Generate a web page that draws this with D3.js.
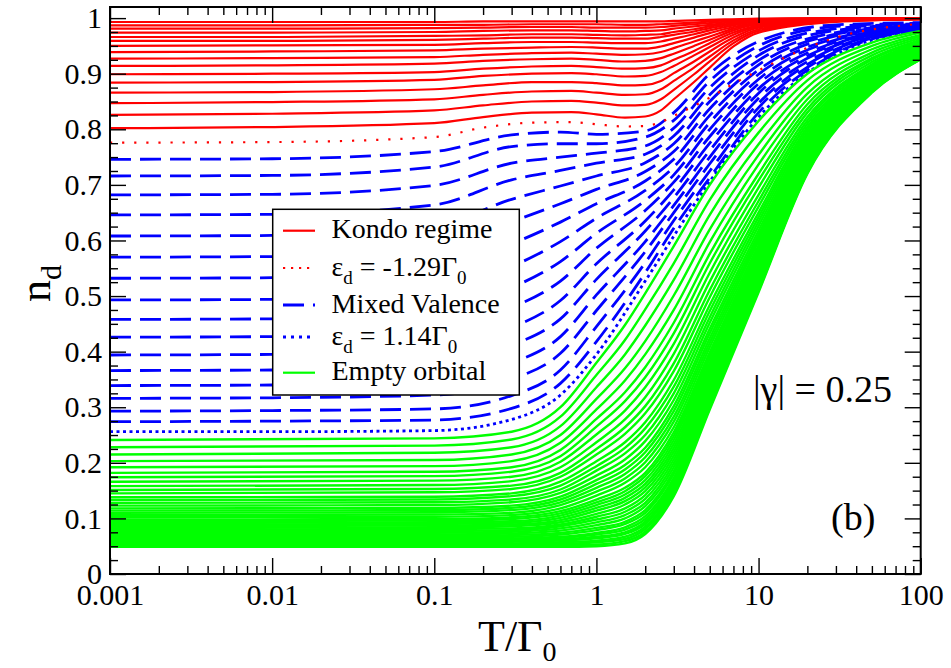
<!DOCTYPE html>
<html>
<head>
<meta charset="utf-8">
<script src="https://cdn.jsdelivr.net/npm/d3@7"></script>
<style>
  body { margin: 0; background: #fff; }
  svg { display: block; font-family: "Liberation Serif", "Times New Roman", serif; }
</style>
</head>
<body>
<div id="chart"></div>
<script>
// n_d(T) for |gamma| = 0.25; T in units of Gamma_0

// Kondo regime (solid red)
const kondoT = [0.001, 0.01, 0.1, 0.2, 0.4, 0.7, 1, 1.5, 2, 2.5, 3, 4, 5, 7, 10, 30, 100];
const kondoCurves = [
  [0.802, 0.804, 0.811, 0.822, 0.830, 0.831, 0.827, 0.821, 0.823, 0.834, 0.854, 0.885, 0.911, 0.949, 0.974, 0.993, 0.998],
  [0.826, 0.828, 0.834, 0.843, 0.850, 0.851, 0.848, 0.843, 0.844, 0.854, 0.871, 0.899, 0.922, 0.955, 0.977, 0.994, 0.998],
  [0.847, 0.849, 0.854, 0.862, 0.868, 0.869, 0.866, 0.862, 0.863, 0.872, 0.887, 0.911, 0.931, 0.960, 0.980, 0.995, 0.998],
  [0.866, 0.867, 0.872, 0.879, 0.885, 0.885, 0.883, 0.879, 0.880, 0.887, 0.901, 0.922, 0.940, 0.965, 0.983, 0.995, 0.998],
  [0.884, 0.885, 0.889, 0.896, 0.900, 0.901, 0.899, 0.895, 0.896, 0.903, 0.914, 0.933, 0.948, 0.970, 0.985, 0.996, 0.999],
  [0.899, 0.900, 0.903, 0.909, 0.913, 0.914, 0.912, 0.909, 0.910, 0.915, 0.925, 0.941, 0.955, 0.974, 0.987, 0.996, 0.999],
  [0.914, 0.915, 0.918, 0.923, 0.926, 0.927, 0.925, 0.922, 0.923, 0.928, 0.936, 0.950, 0.961, 0.978, 0.989, 0.997, 0.999],
  [0.927, 0.928, 0.930, 0.934, 0.937, 0.938, 0.936, 0.934, 0.935, 0.939, 0.946, 0.958, 0.967, 0.981, 0.991, 0.997, 0.999],
  [0.939, 0.940, 0.942, 0.945, 0.947, 0.948, 0.947, 0.945, 0.945, 0.949, 0.955, 0.965, 0.973, 0.984, 0.992, 0.998, 0.999],
  [0.950, 0.951, 0.952, 0.955, 0.957, 0.957, 0.956, 0.955, 0.955, 0.958, 0.963, 0.971, 0.978, 0.987, 0.994, 0.998, 0.999],
  [0.959, 0.959, 0.961, 0.963, 0.965, 0.965, 0.964, 0.963, 0.963, 0.966, 0.970, 0.976, 0.982, 0.989, 0.995, 0.999, 1.000],
  [0.966, 0.966, 0.968, 0.969, 0.971, 0.971, 0.970, 0.969, 0.970, 0.971, 0.975, 0.980, 0.985, 0.991, 0.996, 0.999, 1.000],
  [0.974, 0.974, 0.975, 0.977, 0.978, 0.978, 0.977, 0.976, 0.977, 0.978, 0.981, 0.985, 0.988, 0.993, 0.997, 0.999, 1.000],
  [0.981, 0.981, 0.982, 0.983, 0.984, 0.984, 0.983, 0.983, 0.983, 0.984, 0.986, 0.989, 0.991, 0.995, 0.998, 0.999, 1.000],
  [0.987, 0.987, 0.988, 0.988, 0.989, 0.989, 0.989, 0.988, 0.988, 0.989, 0.990, 0.992, 0.994, 0.997, 0.998, 1.000, 1.000],
  [0.993, 0.993, 0.993, 0.994, 0.994, 0.994, 0.994, 0.994, 0.994, 0.994, 0.995, 0.996, 0.997, 0.998, 0.999, 1.000, 1.000]
];
// eps_d = -1.29 Gamma_0 (dotted red)
const kondoEdge = [0.776, 0.777, 0.786, 0.803, 0.812, 0.813, 0.809, 0.805, 0.806, 0.813, 0.824, 0.842, 0.857, 0.882, 0.906, 0.965, 0.990];

// Mixed valence (dashed blue)
const mixedT = [0.001, 0.01, 0.1, 0.3, 0.6, 1, 2, 3, 5, 10, 30, 100];
const mixedCurves = [
  [0.746, 0.747, 0.760, 0.790, 0.795, 0.791, 0.797, 0.830, 0.900, 0.958, 0.988, 0.992],
  [0.716, 0.717, 0.732, 0.769, 0.774, 0.774, 0.786, 0.816, 0.887, 0.950, 0.985, 0.991],
  [0.682, 0.683, 0.699, 0.739, 0.750, 0.757, 0.770, 0.802, 0.875, 0.941, 0.981, 0.990],
  [0.646, 0.647, 0.664, 0.709, 0.726, 0.739, 0.755, 0.788, 0.862, 0.933, 0.978, 0.989],
  [0.608, 0.609, 0.626, 0.674, 0.698, 0.716, 0.740, 0.774, 0.850, 0.924, 0.974, 0.988],
  [0.570, 0.571, 0.587, 0.634, 0.666, 0.692, 0.724, 0.760, 0.837, 0.916, 0.971, 0.987],
  [0.532, 0.533, 0.548, 0.594, 0.633, 0.666, 0.707, 0.746, 0.825, 0.907, 0.968, 0.986],
  [0.493, 0.494, 0.508, 0.553, 0.598, 0.640, 0.690, 0.732, 0.812, 0.899, 0.964, 0.985],
  [0.458, 0.459, 0.471, 0.515, 0.562, 0.613, 0.672, 0.718, 0.800, 0.890, 0.961, 0.984],
  [0.426, 0.427, 0.438, 0.479, 0.527, 0.586, 0.654, 0.705, 0.787, 0.882, 0.957, 0.983],
  [0.394, 0.395, 0.404, 0.443, 0.492, 0.558, 0.635, 0.691, 0.775, 0.873, 0.954, 0.983],
  [0.366, 0.367, 0.375, 0.411, 0.459, 0.530, 0.617, 0.677, 0.762, 0.865, 0.951, 0.982],
  [0.339, 0.340, 0.346, 0.379, 0.427, 0.502, 0.598, 0.663, 0.750, 0.856, 0.947, 0.981],
  [0.316, 0.317, 0.322, 0.350, 0.397, 0.474, 0.580, 0.650, 0.738, 0.847, 0.944, 0.980],
  [0.293, 0.294, 0.297, 0.321, 0.367, 0.445, 0.560, 0.636, 0.725, 0.839, 0.940, 0.980],
  [0.274, 0.275, 0.277, 0.298, 0.343, 0.418, 0.542, 0.622, 0.713, 0.830, 0.937, 0.979]
];
// eps_d = 1.14 Gamma_0 (dotted blue)
const mixedEdge = [0.256, 0.256, 0.258, 0.278, 0.322, 0.395, 0.527, 0.608, 0.706, 0.822, 0.934, 0.978];

// Empty orbital (thin green)
const emptyT = [0.001, 0.1, 0.3, 0.6, 1, 1.5, 2, 3, 5, 10, 20, 50, 100];
const emptyCurves = [
  [0.241, 0.244, 0.256, 0.300, 0.380, 0.448, 0.505, 0.590, 0.700, 0.815, 0.900, 0.956, 0.977],
  [0.228, 0.231, 0.242, 0.283, 0.358, 0.421, 0.476, 0.559, 0.673, 0.794, 0.888, 0.950, 0.974],
  [0.215, 0.218, 0.228, 0.266, 0.336, 0.395, 0.447, 0.529, 0.646, 0.773, 0.876, 0.944, 0.970],
  [0.203, 0.205, 0.215, 0.250, 0.315, 0.370, 0.419, 0.501, 0.620, 0.754, 0.864, 0.938, 0.967],
  [0.192, 0.194, 0.203, 0.236, 0.296, 0.348, 0.395, 0.475, 0.597, 0.737, 0.854, 0.933, 0.964],
  [0.182, 0.184, 0.192, 0.223, 0.279, 0.327, 0.372, 0.452, 0.576, 0.720, 0.845, 0.928, 0.961],
  [0.174, 0.176, 0.184, 0.212, 0.265, 0.311, 0.354, 0.433, 0.559, 0.708, 0.837, 0.925, 0.959],
  [0.166, 0.168, 0.175, 0.202, 0.251, 0.294, 0.336, 0.414, 0.542, 0.695, 0.830, 0.921, 0.957],
  [0.158, 0.160, 0.167, 0.192, 0.237, 0.278, 0.318, 0.396, 0.526, 0.682, 0.822, 0.917, 0.955],
  [0.151, 0.153, 0.159, 0.182, 0.225, 0.264, 0.302, 0.379, 0.511, 0.671, 0.816, 0.914, 0.953],
  [0.145, 0.147, 0.153, 0.175, 0.215, 0.252, 0.289, 0.365, 0.498, 0.661, 0.810, 0.911, 0.952],
  [0.138, 0.139, 0.145, 0.166, 0.203, 0.237, 0.273, 0.349, 0.484, 0.650, 0.804, 0.908, 0.950],
  [0.133, 0.134, 0.140, 0.159, 0.194, 0.227, 0.262, 0.337, 0.473, 0.642, 0.799, 0.905, 0.948],
  [0.128, 0.129, 0.134, 0.152, 0.186, 0.217, 0.250, 0.325, 0.462, 0.634, 0.794, 0.903, 0.947],
  [0.123, 0.124, 0.129, 0.146, 0.177, 0.206, 0.239, 0.313, 0.452, 0.626, 0.789, 0.901, 0.946],
  [0.118, 0.119, 0.123, 0.139, 0.169, 0.196, 0.227, 0.302, 0.441, 0.618, 0.785, 0.898, 0.944],
  [0.114, 0.115, 0.119, 0.134, 0.162, 0.188, 0.219, 0.293, 0.433, 0.611, 0.781, 0.897, 0.943],
  [0.110, 0.111, 0.115, 0.129, 0.155, 0.180, 0.210, 0.283, 0.424, 0.605, 0.777, 0.895, 0.942],
  [0.106, 0.107, 0.110, 0.124, 0.148, 0.172, 0.201, 0.274, 0.416, 0.599, 0.774, 0.893, 0.941],
  [0.102, 0.103, 0.106, 0.118, 0.141, 0.164, 0.192, 0.264, 0.408, 0.592, 0.770, 0.891, 0.940],
  [0.098, 0.099, 0.102, 0.113, 0.134, 0.155, 0.182, 0.255, 0.399, 0.586, 0.766, 0.889, 0.939],
  [0.095, 0.096, 0.099, 0.109, 0.129, 0.149, 0.176, 0.248, 0.393, 0.581, 0.763, 0.888, 0.938],
  [0.092, 0.093, 0.095, 0.105, 0.124, 0.143, 0.169, 0.241, 0.387, 0.576, 0.760, 0.886, 0.937],
  [0.089, 0.090, 0.092, 0.101, 0.119, 0.137, 0.162, 0.234, 0.380, 0.571, 0.757, 0.885, 0.937],
  [0.086, 0.087, 0.089, 0.097, 0.114, 0.131, 0.156, 0.227, 0.374, 0.566, 0.755, 0.883, 0.936],
  [0.083, 0.084, 0.086, 0.093, 0.108, 0.125, 0.149, 0.220, 0.368, 0.562, 0.752, 0.882, 0.935],
  [0.080, 0.081, 0.082, 0.089, 0.103, 0.118, 0.142, 0.213, 0.361, 0.557, 0.749, 0.881, 0.934],
  [0.077, 0.077, 0.079, 0.086, 0.098, 0.112, 0.135, 0.206, 0.355, 0.552, 0.746, 0.879, 0.933],
  [0.074, 0.074, 0.076, 0.082, 0.093, 0.106, 0.128, 0.199, 0.349, 0.547, 0.743, 0.878, 0.933],
  [0.071, 0.071, 0.073, 0.078, 0.088, 0.100, 0.122, 0.192, 0.342, 0.542, 0.741, 0.876, 0.932],
  [0.068, 0.068, 0.070, 0.074, 0.083, 0.094, 0.115, 0.185, 0.336, 0.538, 0.738, 0.875, 0.931],
  [0.066, 0.066, 0.067, 0.071, 0.079, 0.090, 0.110, 0.180, 0.332, 0.534, 0.736, 0.874, 0.930],
  [0.063, 0.063, 0.064, 0.067, 0.074, 0.084, 0.104, 0.173, 0.326, 0.530, 0.733, 0.873, 0.930],
  [0.061, 0.061, 0.062, 0.065, 0.071, 0.080, 0.099, 0.168, 0.321, 0.526, 0.731, 0.872, 0.929],
  [0.059, 0.059, 0.060, 0.062, 0.067, 0.075, 0.094, 0.163, 0.317, 0.523, 0.729, 0.871, 0.929],
  [0.057, 0.057, 0.058, 0.060, 0.064, 0.072, 0.090, 0.159, 0.313, 0.520, 0.728, 0.870, 0.928],
  [0.055, 0.055, 0.055, 0.057, 0.060, 0.067, 0.085, 0.154, 0.309, 0.517, 0.726, 0.869, 0.928],
  [0.053, 0.053, 0.053, 0.054, 0.057, 0.063, 0.081, 0.150, 0.305, 0.514, 0.724, 0.868, 0.927],
  [0.051, 0.051, 0.051, 0.052, 0.053, 0.059, 0.076, 0.145, 0.300, 0.510, 0.722, 0.867, 0.926],
  [0.049, 0.049, 0.049, 0.049, 0.050, 0.055, 0.072, 0.140, 0.296, 0.507, 0.720, 0.866, 0.926]
];

// axis ticks
const xTicks = [0.001, 0.01, 0.1, 1, 10, 100];
const xTickLabels = ["0.001", "0.01", "0.1", "1", "10", "100"];
const yTicks = [0, 0.1, 0.2, 0.3, 0.4, 0.5, 0.6, 0.7, 0.8, 0.9, 1];
const yTickLabels = ["0", "0.1", "0.2", "0.3", "0.4", "0.5", "0.6", "0.7", "0.8", "0.9", "1"];

const RED = "#ff0000", BLUE = "#0000ff", GREEN = "#00ff00";
const W = 951, H = 668;
const plot = { left: 110, right: 920.7, top: 7, bottom: 574 };
const FONT = "'Liberation Serif', 'Times New Roman', serif";

const svg = d3.select("#chart").append("svg")
    .attr("width", W).attr("height", H);

const x = d3.scaleLog().domain([0.001, 100]).range([plot.left, plot.right]);
const y = d3.scaleLinear().domain([0, 1.02]).range([plot.bottom, plot.top]);

svg.append("clipPath").attr("id", "plot-clip").append("rect")
    .attr("x", plot.left).attr("y", plot.top)
    .attr("width", plot.right - plot.left).attr("height", plot.bottom - plot.top);

const curves = svg.append("g").attr("clip-path", "url(#plot-clip)").attr("fill", "none");

function drawFamily(grid, rows, color, width, dash) {
    const line = d3.line()
        .x((d, i) => x(grid[i]))
        .y(d => y(d))
        .curve(d3.curveMonotoneX);
    curves.append("g").selectAll("path").data(rows).join("path")
        .attr("d", line)
        .attr("stroke", color)
        .attr("stroke-width", width)
        .attr("stroke-dasharray", dash);
}

drawFamily(kondoT, kondoCurves, RED, 2.2, null);
drawFamily(mixedT, mixedCurves, BLUE, 2.8, "21,9");
drawFamily(kondoT, [kondoEdge], RED, 2.2, "2.2,9.9");
drawFamily(mixedT, [mixedEdge], BLUE, 2.8, "3,3.5");
drawFamily(emptyT, emptyCurves, GREEN, 2.4, null);

// minor tick positions
const xMinor = [];
xTicks.slice(0, -1).forEach(d => { for (let k = 2; k < 10; k++) xMinor.push(d * k); });
const yMinor = d3.range(0, 41).map(i => i * 0.025).filter((d, i) => i % 4 !== 0);

function styleAxis(g) {
    g.select(".domain").remove();
    g.selectAll(".tick line").attr("stroke", "#000").attr("stroke-width", 1.4);
    g.selectAll("text").attr("font-family", FONT).attr("font-size", 30).attr("fill", "#000");
}

// bottom / left with labels, top / right mirrored without
svg.append("g").attr("transform", `translate(0,${plot.bottom})`)
    .call(d3.axisBottom(x).tickValues(xTicks).tickFormat((d, i) => xTickLabels[i])
        .tickSizeInner(-16).tickSizeOuter(0).tickPadding(10))
    .call(styleAxis);
svg.append("g").attr("transform", `translate(0,${plot.bottom})`)
    .call(d3.axisBottom(x).tickValues(xMinor).tickFormat("").tickSizeInner(-8).tickSizeOuter(0))
    .call(styleAxis);
svg.append("g").attr("transform", `translate(0,${plot.top})`)
    .call(d3.axisTop(x).tickValues(xTicks).tickFormat("").tickSizeInner(-16).tickSizeOuter(0))
    .call(styleAxis);
svg.append("g").attr("transform", `translate(0,${plot.top})`)
    .call(d3.axisTop(x).tickValues(xMinor).tickFormat("").tickSizeInner(-8).tickSizeOuter(0))
    .call(styleAxis);

svg.append("g").attr("transform", `translate(${plot.left},0)`)
    .call(d3.axisLeft(y).tickValues(yTicks).tickFormat((d, i) => yTickLabels[i])
        .tickSizeInner(-16).tickSizeOuter(0).tickPadding(8))
    .call(styleAxis);
svg.append("g").attr("transform", `translate(${plot.left},0)`)
    .call(d3.axisLeft(y).tickValues(yMinor).tickFormat("").tickSizeInner(-8).tickSizeOuter(0))
    .call(styleAxis);
svg.append("g").attr("transform", `translate(${plot.right},0)`)
    .call(d3.axisRight(y).tickValues(yTicks).tickFormat("").tickSizeInner(-16).tickSizeOuter(0))
    .call(styleAxis);
svg.append("g").attr("transform", `translate(${plot.right},0)`)
    .call(d3.axisRight(y).tickValues(yMinor).tickFormat("").tickSizeInner(-8).tickSizeOuter(0))
    .call(styleAxis);

// frame
svg.append("rect")
    .attr("x", plot.left).attr("y", plot.top)
    .attr("width", plot.right - plot.left).attr("height", plot.bottom - plot.top)
    .attr("fill", "none").attr("stroke", "#000").attr("stroke-width", 2);

// text with subscripts: parts are [string, isSubscript]
function richText(sel, parts, size, subSize, shift) {
    let down = false;
    parts.forEach(([s, sub]) => {
        const t = sel.append("tspan").text(s);
        if (sub && !down) { t.attr("dy", shift).attr("font-size", subSize); down = true; }
        else if (!sub && down) { t.attr("dy", -shift).attr("font-size", size); down = false; }
        else if (sub) { t.attr("font-size", subSize); }
    });
    return sel;
}

// axis titles
const yTitle = svg.append("text")
    .attr("transform", "translate(50,302) rotate(-90)")
    .attr("font-family", FONT).attr("font-size", 44);
richText(yTitle, [["n", false], ["d", true]], 44, 30, 11);

const xTitle = svg.append("text")
    .attr("x", 478).attr("y", 651)
    .attr("font-family", FONT).attr("font-size", 44);
richText(xTitle, [["T/\u0393", false], ["0", true]], 44, 28, 10);

// legend
const legendRows = [
    { parts: [["Kondo regime", false]], color: RED, width: 2.2, dash: null, y: 230.7 },
    { parts: [["\u03b5", false], ["d", true], [" = -1.29\u0393", false], ["0", true]], color: RED, width: 2.2, dash: "2.2,5.8", y: 268 },
    { parts: [["Mixed Valence", false]], color: BLUE, width: 2.8, dash: "21,9", y: 305 },
    { parts: [["\u03b5", false], ["d", true], [" = 1.14\u0393", false], ["0", true]], color: BLUE, width: 2.8, dash: "3,5", y: 337 },
    { parts: [["Empty orbital", false]], color: GREEN, width: 2.2, dash: null, y: 372.7 }
];

const legend = svg.append("g");
legend.append("rect")
    .attr("x", 272.7).attr("y", 209.3).attr("width", 246.6).attr("height", 185.7)
    .attr("fill", "#fff").attr("stroke", "#000").attr("stroke-width", 1.5);
legendRows.forEach(r => {
    legend.append("line")
        .attr("x1", 283).attr("x2", 315).attr("y1", r.y).attr("y2", r.y)
        .attr("stroke", r.color).attr("stroke-width", r.width).attr("stroke-dasharray", r.dash);
    const t = legend.append("text")
        .attr("x", 331.5).attr("y", r.y + 7.5)
        .attr("font-family", FONT).attr("font-size", 28);
    richText(t, r.parts, 28, 19, 8);
});

// annotations
svg.append("text").attr("x", 753).attr("y", 402)
    .attr("font-family", FONT).attr("font-size", 38)
    .text("|\u03b3| = 0.25");
svg.append("text").attr("x", 831).attr("y", 530)
    .attr("font-family", FONT).attr("font-size", 38)
    .text("(b)");
</script>
</body>
</html>
